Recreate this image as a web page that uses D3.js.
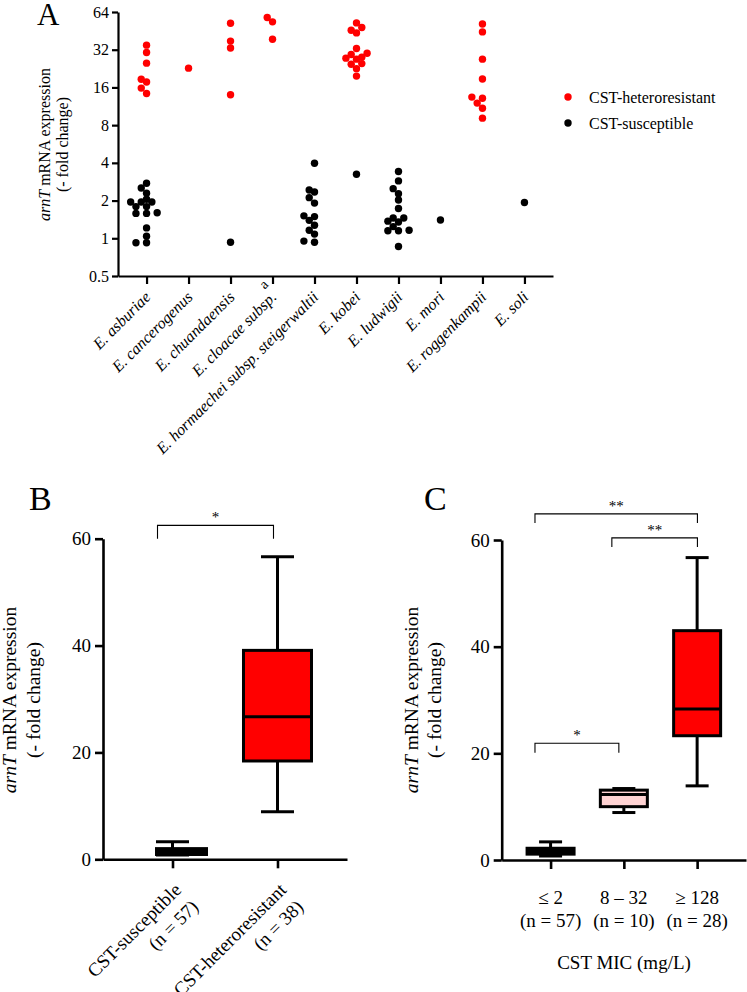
<!DOCTYPE html>
<html><head><meta charset="utf-8">
<script src="https://cdn.jsdelivr.net/npm/d3@7"></script>
<style>
body{margin:0;background:#fff}
svg text{font-family:"Liberation Serif","Tinos","Times New Roman","DejaVu Serif",serif !important;fill:#000}
</style>
</head><body>
<svg id="c" width="747" height="992" font-family="Liberation Serif"></svg>
<script>
// ---------- Panel A data ----------
const speciesA = ["E. asburiae","E. cancerogenus","E. chuandaensis","E. cloacae subsp.","E. hormaechei subsp. steigerwaltii","E. kobei","E. ludwigii","E. mori","E. roggenkampii","E. soli"];
const heteroA = [
  [34.8,30.4,25,18.6,17.7,15.8,14.3],
  [22.8],
  [52,37.5,33,14.0],
  [57.8,53.4,38.8],
  [],
  [52.4,48.2,45.8,43.6,32.7,30,29.3,27.9,27.4,26.9,24.8,24.5,22.6,19.7],
  [],
  [],
  [51.4,44.4,26.9,18.7,13.4,13.1,12.0,10.9,9.1],
  []
];
const suscA = [
  [2.75,2.52,2.29,2.05,1.95,1.95,1.95,1.79,1.79,1.60,1.58,1.58,1.21,1.04,0.92,0.92],
  [],
  [0.93],
  [],
  [3.97,2.43,2.34,2.11,1.91,1.51,1.49,1.39,1.27,1.16,1.08,0.95,0.93],
  [3.24],
  [3.41,2.87,2.49,2.27,2.02,1.73,1.45,1.45,1.37,1.35,1.24,1.16,1.15,1.15,0.86],
  [1.40],
  [],
  [1.93]
];
const yTicksA = [0.5,1,2,4,8,16,32,64];
const legendA = ["CST-heteroresistant","CST-susceptible"];

// ---------- Panel B data ----------
const groupsB = ["CST-susceptible","CST-heteroresistant"];
const nB = [57,38];
const minB = [0.8, 8.9];
const q1B = [0.9, 18.4];
const medB = [1.6, 26.7];
const q3B = [2.0, 39.1];
const maxB = [3.3, 56.6];
const yTicksB = [0,20,40,60];

// ---------- Panel C data ----------
const groupsC = ["≤ 2","8 – 32","≥ 128"];
const nC = [57,10,28];
const minC = [0.75, 8.9, 13.9];
const q1C = [1.1, 10.0, 23.3];
const medC = [1.6, 12.3, 28.3];
const q3C = [2.2, 13.1, 43.0];
const maxC = [3.4, 13.4, 56.7];
const yTicksC = [0,20,40,60];

const red = "#ff0000";
const FONT = '"Liberation Serif","Tinos","Times New Roman","DejaVu Serif",serif';
const svg = d3.select("#c");

function styleAxis(a, sw, fs){
  a.attr("font-family", FONT);
  a.select(".domain").attr("stroke-width",sw);
  a.selectAll(".tick line").attr("stroke-width",sw);
  a.selectAll("text").style("font-size",fs+"px").style("font-family",FONT);
}

// ================= Panel A =================
const yA = d3.scaleLog().base(2).domain([0.5,64]).range([276,12]);
const xA = d3.scalePoint().domain(speciesA).range([118,553]).padding(0.68);

const gA = svg.append("g");
const axLA = gA.append("g").attr("transform","translate(118,0)")
  .call(d3.axisLeft(yA).tickValues(yTicksA).tickFormat(d=>d).tickSize(6).tickSizeOuter(0).tickPadding(3));
const axBA = gA.append("g").attr("transform","translate(0,276)")
  .call(d3.axisBottom(xA).tickSize(8).tickSizeOuter(0).tickFormat(""));
styleAxis(axLA, 2.2, 16); styleAxis(axBA, 2.2, 16);

// species labels
speciesA.forEach((s,i)=>{
  const g = gA.append("g").attr("transform",`translate(${xA(s)+5},${298}) rotate(-45)`);
  g.append("text").attr("text-anchor","end").style("font-size","16px").style("font-style","italic").text(s);
  if (s === "E. cloacae subsp.") {
    g.append("text").attr("x",3).attr("y",-15).attr("text-anchor","end").style("font-size","14px").text("a");
  }
});

function swarm(vals, cx, yScale, r, step){
  const pts = vals.map(v=>({v, y:yScale(v)})).sort((a,b)=>b.y-a.y);
  const placed = [];
  const minD = 5.6;
  pts.forEach(p=>{
    for(let k=0;k<60;k++){
      const m = k===0 ? 0 : (k%2 ? -Math.ceil(k/2) : Math.ceil(k/2));
      const x = cx + m*step;
      if (placed.every(q=>Math.hypot(q.x-x, q.y-p.y) >= minD)) { p.x = x; placed.push(p); break; }
    }
  });
  return placed;
}
const rA = 3.7;
speciesA.forEach((s,i)=>{
  const cx = xA(s);
  swarm(suscA[i], cx, yA, rA, 5.3).forEach(p=>{
    gA.append("circle").attr("cx",p.x).attr("cy",p.y).attr("r",rA).attr("fill","#000");
  });
  swarm(heteroA[i], cx, yA, rA, 5.3).forEach(p=>{
    gA.append("circle").attr("cx",p.x).attr("cy",p.y).attr("r",rA).attr("fill",red);
  });
});

// legend
legendA.forEach((t,i)=>{
  const y = 97 + i*26;
  gA.append("circle").attr("cx",568).attr("cy",y).attr("r",rA).attr("fill", i===0?red:"#000");
  gA.append("text").attr("x",589).attr("y",y+5.5).style("font-size","16px").text(t);
});

// y label A
const yl = gA.append("text").attr("transform","translate(50,144.5) rotate(-90)").attr("text-anchor","middle").style("font-size","16px");
yl.append("tspan").style("font-style","italic").text("arnT");
yl.append("tspan").text(" mRNA expression");
gA.append("text").attr("transform","translate(68,144.5) rotate(-90)").attr("text-anchor","middle").style("font-size","16px").text("(- fold change)");
gA.append("text").attr("x",37).attr("y",25).style("font-size","31px").text("A");

// ================= Box helper =================
function drawBox(g, cx, mn, q1, md, q3, mx, y, w, capW, fill, shift){
  const st = "#000", sw = 3;
  g.append("line").attr("x1",cx).attr("x2",cx).attr("y1",y(mx)).attr("y2",y(q3)).attr("stroke",st).attr("stroke-width",sw);
  g.append("line").attr("x1",cx).attr("x2",cx).attr("y1",y(q1)).attr("y2",y(mn)).attr("stroke",st).attr("stroke-width",sw);
  g.append("line").attr("x1",cx-capW/2).attr("x2",cx+capW/2).attr("y1",y(mx)).attr("y2",y(mx)).attr("stroke",st).attr("stroke-width",sw);
  g.append("line").attr("x1",cx-capW/2).attr("x2",cx+capW/2).attr("y1",y(mn)).attr("y2",y(mn)).attr("stroke",st).attr("stroke-width",sw);
  const bx = cx + shift - w/2;
  g.append("rect").attr("x",bx).attr("y",y(q3)).attr("width",w).attr("height",y(q1)-y(q3)).attr("fill",fill).attr("stroke",st).attr("stroke-width",sw);
  g.append("line").attr("x1",bx).attr("x2",bx+w).attr("y1",y(md)).attr("y2",y(md)).attr("stroke",st).attr("stroke-width",sw);
}
function bracket(g, x1, x2, yTop, yLeg, label, fs){
  g.append("path").attr("d",`M${x1},${yLeg}V${yTop}H${x2}V${yLeg}`).attr("fill","none").attr("stroke","#000").attr("stroke-width",1.1);
  g.append("text").attr("x",(x1+x2)/2).attr("y",yTop-3).attr("text-anchor","middle").style("font-size",fs+"px").text(label);
}

// ================= Panel B =================
const yB = d3.scaleLinear().domain([0,60]).range([859.3,538.7]);
const xB = d3.scalePoint().domain(groupsB).range([103,347]).padding(0.662);
const gB = svg.append("g");
const axLB = gB.append("g").attr("transform","translate(103,0)")
  .call(d3.axisLeft(yB).tickValues(yTicksB).tickSize(8).tickSizeOuter(0).tickPadding(4));
const axBB = gB.append("g").attr("transform","translate(0,859.3)")
  .call(d3.axisBottom(xB).tickSize(9).tickSizeOuter(0).tickFormat(""));
styleAxis(axLB, 2.6, 19); styleAxis(axBB, 2.6, 19);

const boxWB = [50, 68], shiftB = [9, 0], fillB = ["#000", red];
groupsB.forEach((gname,i)=>{
  drawBox(gB, xB(gname), minB[i], q1B[i], medB[i], q3B[i], maxB[i], yB, boxWB[i], 33, fillB[i], shiftB[i]);
  const t = gB.append("g").attr("transform",`translate(${xB(gname)+10},${891}) rotate(-45)`);
  t.append("text").attr("text-anchor","end").style("font-size","19px").text(gname);
  t.append("text").attr("text-anchor","end").attr("y",24).style("font-size","19px").text(`(n = ${nB[i]})`);
});
bracket(gB, xB(groupsB[0])-15, xB(groupsB[1])-4, yB(62.5), yB(60), "*", 15);

const ylB = gB.append("text").attr("transform","translate(16,700) rotate(-90)").attr("text-anchor","middle").style("font-size","19.5px");
ylB.append("tspan").style("font-style","italic").text("arnT");
ylB.append("tspan").text(" mRNA expression");
gB.append("text").attr("transform","translate(40,700) rotate(-90)").attr("text-anchor","middle").style("font-size","19.5px").text("(- fold change)");
gB.append("text").attr("x",29).attr("y",510).style("font-size","34px").text("B");

// ================= Panel C =================
const yC = d3.scaleLinear().domain([0,60]).range([860,540]);
const xC = d3.scalePoint().domain(groupsC).range([501.7,746]).padding(0.667);
const gC = svg.append("g");
const axLC = gC.append("g").attr("transform","translate(501.7,0)")
  .call(d3.axisLeft(yC).tickValues(yTicksC).tickSize(8).tickSizeOuter(0).tickPadding(4));
const axBC = gC.append("g").attr("transform","translate(0,860)")
  .call(d3.axisBottom(xC).tickSize(9).tickSizeOuter(0).tickFormat(""));
styleAxis(axLC, 2.6, 19); styleAxis(axBC, 2.6, 19);

const fillC = ["#000", "#ffd3d3", red];
groupsC.forEach((gname,i)=>{
  drawBox(gC, xC(gname), minC[i], q1C[i], medC[i], q3C[i], maxC[i], yC, 47, 23, fillC[i], 0);
  gC.append("text").attr("x",xC(gname)).attr("y",904).attr("text-anchor","middle").style("font-size","19px").text(gname);
  gC.append("text").attr("x",xC(gname)).attr("y",926.5).attr("text-anchor","middle").style("font-size","19px").text(`(n = ${nC[i]})`);
});
gC.append("text").attr("x",624).attr("y",969).attr("text-anchor","middle").style("font-size","19px").text("CST MIC (mg/L)");
bracket(gC, xC(groupsC[0])-15.6, xC(groupsC[2])+0.3, yC(64.9), yC(63.2), "**", 15);
bracket(gC, xC(groupsC[1])-12, xC(groupsC[2])+0.3, yC(60.4), yC(58.7), "**", 15);
bracket(gC, xC(groupsC[0])-15.6, xC(groupsC[1])-5, yC(21.9), yC(20.1), "*", 15);

const ylC = gC.append("text").attr("transform","translate(418,700) rotate(-90)").attr("text-anchor","middle").style("font-size","19.5px");
ylC.append("tspan").style("font-style","italic").text("arnT");
ylC.append("tspan").text(" mRNA expression");
gC.append("text").attr("transform","translate(441,700) rotate(-90)").attr("text-anchor","middle").style("font-size","19.5px").text("(- fold change)");
gC.append("text").attr("x",424).attr("y",510).style("font-size","34px").text("C");
</script>
</body></html>
